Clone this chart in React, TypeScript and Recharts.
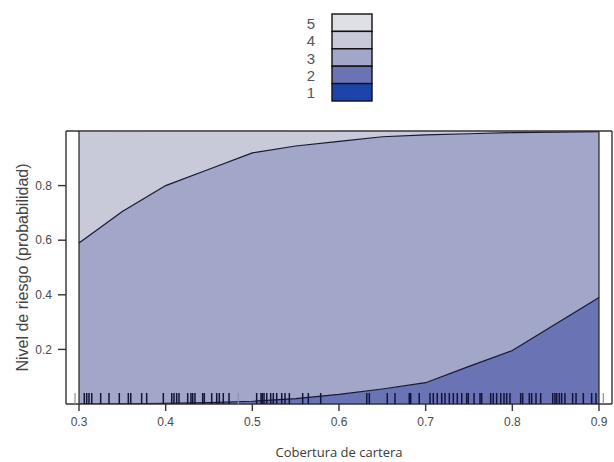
import React from "react";
import {
  ComposedChart,
  Area,
  Line,
  Scatter,
  XAxis,
  YAxis,
  ReferenceLine,
  Legend,
} from "recharts";

// Coverage values at which the predicted probabilities are evaluated
const coverage = [0.3, 0.35, 0.4, 0.45, 0.5, 0.55, 0.6, 0.65, 0.7, 0.75, 0.8, 0.85, 0.9];

// Predicted probability of each risk level (stacked, sums to 1)
const level1 = [0, 0, 0, 0, 0, 0, 0, 0, 0.001, 0.001, 0.002, 0.003, 0.004];
const level2 = [0, 0.001, 0.002, 0.005, 0.01, 0.02, 0.035, 0.055, 0.077, 0.137, 0.194, 0.29, 0.386];
const level3 = [0.59, 0.704, 0.798, 0.855, 0.91, 0.925, 0.927, 0.924, 0.908, 0.852, 0.798, 0.703, 0.608];
const level4 = [0.406, 0.292, 0.198, 0.138, 0.078, 0.054, 0.037, 0.02, 0.013, 0.009, 0.005, 0.003, 0.001];
const level5 = [0.004, 0.003, 0.002, 0.002, 0.002, 0.001, 0.001, 0.001, 0.001, 0.001, 0.001, 0.001, 0.001];

// Observed coverage values (rug along the bottom)
const rugObs = [
  0.3061, 0.3089, 0.3115, 0.3147, 0.325, 0.3346, 0.3465, 0.3569, 0.3597, 0.3723, 0.3781,
  0.3973, 0.407, 0.4096, 0.4127, 0.4154, 0.4254, 0.4292, 0.4312, 0.4338, 0.4427, 0.4446,
  0.4531, 0.4589, 0.4619, 0.4665, 0.4731, 0.505, 0.51, 0.5115, 0.5135, 0.5166, 0.5212,
  0.5242, 0.5281, 0.5339, 0.5377, 0.5427, 0.5581, 0.5646, 0.5789, 0.632, 0.635, 0.6557,
  0.6646, 0.6811, 0.6827, 0.6926, 0.705, 0.7088, 0.7134, 0.7185, 0.7223, 0.7273, 0.7319,
  0.7365, 0.7416, 0.7473, 0.7492, 0.7558, 0.7627, 0.7646, 0.775, 0.778, 0.7819, 0.7866,
  0.7904, 0.7935, 0.7973, 0.8096, 0.8119, 0.8196, 0.8223, 0.8273, 0.8327, 0.8466, 0.8492,
  0.8512, 0.8542, 0.8569, 0.8607, 0.8696, 0.8735, 0.8819, 0.8915, 0.8965,
];
const rugFaint = [0.2954, 0.4838, 0.905];

const xTicks = [0.3, 0.4, 0.5, 0.6, 0.7, 0.8, 0.9];
const yTicks = [0.2, 0.4, 0.6, 0.8];

const levelNames = ["1", "2", "3", "4", "5"];
const levelColors = ["#1b45aa", "#6a73b3", "#a2a6c9", "#c8cada", "#dfe0e5"];
const levelSeries = [level1, level2, level3, level4, level5];

// Each row holds the per-level probabilities plus the cumulative
// boundaries P(level <= k), which are outlined in black.
const rows = coverage.map((x, i) => ({
  x,
  l1: level1[i],
  l2: level2[i],
  l3: level3[i],
  l4: level4[i],
  l5: level5[i],
  upTo2: level1[i] + level2[i],
  upTo3: level1[i] + level2[i] + level3[i],
}));

const rugRows = rugObs.map((x) => ({ x, y: 0 }));
const rugFaintRows = rugFaint.map((x) => ({ x, y: 0 }));

const tickFont = {
  fontFamily: "'Liberation Sans Narrow', 'Liberation Sans', Arial, sans-serif",
  fontSize: 12,
  fill: "#4a4a4a",
};

const RugMark = (color: string, w: number) => (props: any) => {
  const { cx, cy } = props;
  if (cx == null || cy == null) return <g />;
  return <line x1={cx} x2={cx} y1={cy - 11} y2={cy} stroke={color} strokeWidth={w} />;
};

const LevelLegend = () => {
  const rowH = 17.4;
  const order = [4, 3, 2, 1, 0];
  return (
    <svg width={90} height={94}>
      {order.map((li, k) => (
        <g key={levelNames[li]}>
          <rect
            x={36}
            y={2 + k * rowH}
            width={40}
            height={rowH}
            fill={levelColors[li]}
            stroke="#111"
            strokeWidth={1.4}
          />
          <text
            x={15}
            y={2 + k * rowH + rowH / 2 + 6}
            textAnchor="middle"
            fontFamily="'Liberation Sans', Arial, sans-serif"
            fontSize={15}
            fill="#555"
          >
            {levelNames[li]}
          </text>
        </g>
      ))}
    </svg>
  );
};

const YTitle = (props: any) => {
  const vb = props.viewBox || { x: 0, y: 0, height: 0 };
  const cx = vb.x + 22;
  const cy = vb.y + vb.height / 2;
  return (
    <text
      x={cx}
      y={cy}
      transform={`rotate(-90 ${cx} ${cy})`}
      textAnchor="middle"
      dominantBaseline="central"
      fontFamily="'Liberation Sans', Arial, sans-serif"
      fontSize={16}
      fill="#444"
    >
      Nivel de riesgo (probabilidad)
    </text>
  );
};

export default function App() {
  return (
    <div style={{ position: "absolute", left: 0, top: 0, background: "#fff" }}>
      <ComposedChart
        width={614}
        height={462}
        data={rows}
        margin={{ top: 111, right: 0, bottom: 0, left: 0 }}
      >
        <XAxis
          xAxisId={0}
          dataKey="x"
          type="number"
          domain={[0.285, 0.915]}
          allowDataOverflow
          ticks={xTicks}
          tickFormatter={(v: number) => v.toFixed(1)}
          tick={tickFont}
          tickSize={7}
          tickMargin={6}
          stroke="#333"
          strokeWidth={1.4}
          height={58}
          label={{
            value: "Cobertura de cartera",
            position: "insideBottom",
            offset: 5,
            style: {
              fontFamily: "'Open Sans', sans-serif",
              fontSize: 13,
              fill: "#3a3a3a",
            },
          }}
        />
        <XAxis
          xAxisId="top"
          orientation="top"
          type="number"
          domain={[0.285, 0.915]}
          allowDataOverflow
          ticks={xTicks}
          tick={false}
          tickSize={8}
          stroke="#333"
          strokeWidth={1.4}
          height={20}
        />
        <YAxis
          yAxisId={0}
          type="number"
          domain={[0, 1]}
          allowDataOverflow
          ticks={yTicks}
          tickFormatter={(v: number) => v.toFixed(1)}
          tick={tickFont}
          tickSize={8}
          tickMargin={6}
          stroke="#333"
          strokeWidth={1.4}
          width={66}
          label={<YTitle />}
        />
        <YAxis
          yAxisId="right"
          orientation="right"
          type="number"
          domain={[0, 1]}
          allowDataOverflow
          ticks={yTicks}
          tick={false}
          tickSize={8}
          stroke="#333"
          strokeWidth={1.4}
          width={2}
        />
        <Legend
          layout="vertical"
          align="center"
          verticalAlign="middle"
          wrapperStyle={{ position: "absolute", left: 296, top: 12, width: 90, height: 94 }}
          content={() => <LevelLegend />}
        />
        {levelSeries.map((_, i) => (
          <Area
            key={levelNames[i]}
            type="linear"
            dataKey={`l${i + 1}`}
            name={levelNames[i]}
            stackId="p"
            fill={levelColors[i]}
            fillOpacity={1}
            stroke="none"
            dot={false}
            activeDot={false}
            isAnimationActive={false}
          />
        ))}
        <Line
          type="linear"
          dataKey="upTo2"
          stroke="#15172e"
          strokeWidth={1.2}
          dot={false}
          activeDot={false}
          isAnimationActive={false}
        />
        <Line
          type="linear"
          dataKey="upTo3"
          stroke="#15172e"
          strokeWidth={1.2}
          dot={false}
          activeDot={false}
          isAnimationActive={false}
        />
        <ReferenceLine x={0.3} stroke="#222" strokeWidth={1.2} />
        <ReferenceLine x={0.9} stroke="#222" strokeWidth={1.2} />
        <Scatter
          data={rugFaintRows}
          dataKey="y"
          shape={RugMark("#8a8fae", 1.2)}
          isAnimationActive={false}
        />
        <Scatter
          data={rugRows}
          dataKey="y"
          shape={RugMark("#12143a", 1.5)}
          isAnimationActive={false}
        />
      </ComposedChart>
    </div>
  );
}
